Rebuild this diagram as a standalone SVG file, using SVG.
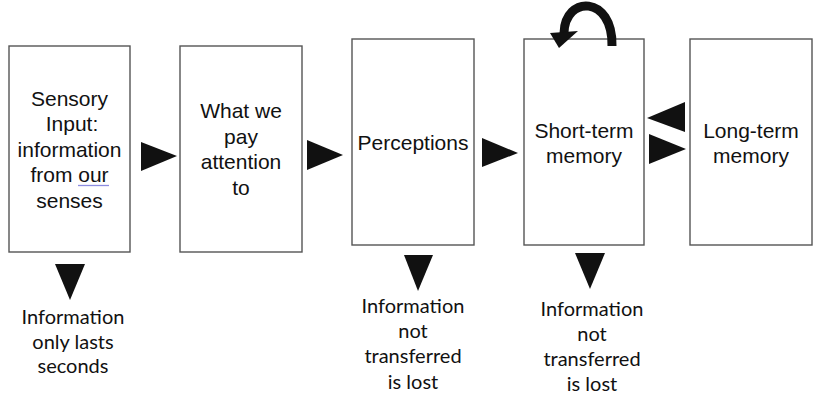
<svg xmlns="http://www.w3.org/2000/svg" width="817" height="397" viewBox="0 0 817 397">
<style>
.box{fill:#fff;stroke:#555;stroke-width:1.4}
.bt{font-family:"Liberation Sans",Arial,sans-serif;font-size:21px;fill:#111;text-anchor:middle}
.nt{font-family:Lato,"Open Sans",sans-serif;font-size:20px;fill:#111;text-anchor:middle}
.arr{fill:#111}
</style>
<rect width="817" height="397" fill="#fff"/>
<g id="sensory">
<rect class="box" x="9" y="46" width="121" height="206"/>
<text class="bt"><tspan x="69.5" y="106">Sensory</tspan><tspan x="72" y="131">Input:</tspan><tspan x="69.5" y="157">information</tspan><tspan x="69.5" y="182">from our</tspan><tspan x="69.5" y="208">senses</tspan></text>
<line x1="78" y1="185.5" x2="109" y2="185.5" stroke="#8c8ce0" stroke-width="1.3"/>
</g>
<g id="attention">
<rect class="box" x="180" y="46" width="122" height="206"/>
<text class="bt"><tspan x="241" y="118">What we</tspan><tspan x="241" y="143.5">pay</tspan><tspan x="241" y="169">attention</tspan><tspan x="241" y="194.5">to</tspan></text>
</g>
<g id="perceptions">
<rect class="box" x="352" y="39" width="122" height="206"/>
<text class="bt" x="413" y="150">Perceptions</text>
</g>
<g id="shortterm">
<rect class="box" x="524" y="39" width="120" height="206"/>
<text class="bt"><tspan x="584" y="138">Short-term</tspan><tspan x="584" y="163">memory</tspan></text>
</g>
<g id="longterm">
<rect class="box" x="690" y="39" width="122" height="206"/>
<text class="bt"><tspan x="751" y="138">Long-term</tspan><tspan x="751" y="163">memory</tspan></text>
</g>
<g id="connectors">
<polygon class="arr" points="141,142 141,171 177,156"/>
<polygon class="arr" points="307,140 307,170 343,155"/>
<polygon class="arr" points="482,138 482,167 518,153"/>
<polygon class="arr" points="685,102 685,132 647,118"/>
<polygon class="arr" points="649,134 649,164 686,149"/>
<polygon class="arr" points="55,264 85,264 70,300"/>
<polygon class="arr" points="404,255 433,255 418,291"/>
<polygon class="arr" points="575,253 605,253 590,289"/>
<path d="M612,46 C613,-5 565,-5 564,33" fill="none" stroke="#111" stroke-width="9"/>
<polygon class="arr" points="550,33 578,31 559,48"/>
</g>
<g id="notes">
<text class="nt"><tspan x="73" y="324">Information</tspan><tspan x="73" y="349">only lasts</tspan><tspan x="73" y="373">seconds</tspan></text>
<text class="nt"><tspan x="413" y="313">Information</tspan><tspan x="413" y="338">not</tspan><tspan x="413" y="363">transferred</tspan><tspan x="413" y="389">is lost</tspan></text>
<text class="nt"><tspan x="592" y="316">Information</tspan><tspan x="592" y="341">not</tspan><tspan x="592" y="366">transferred</tspan><tspan x="592" y="391">is lost</tspan></text>
</g>
</svg>
